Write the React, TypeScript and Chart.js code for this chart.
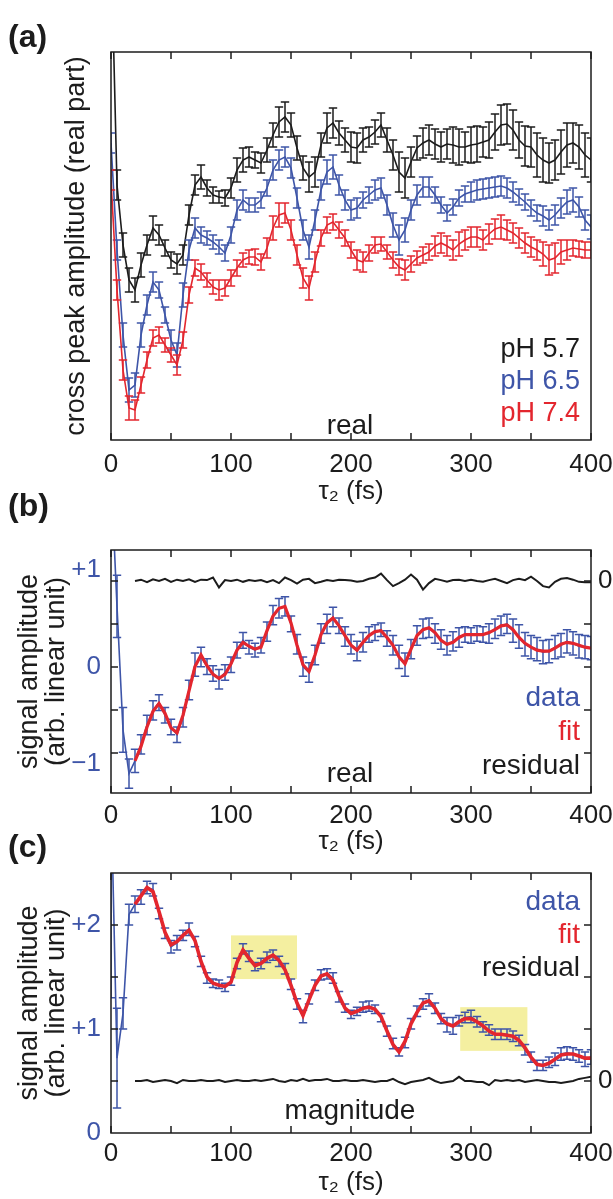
import React, { useEffect, useRef } from 'react';
import { Chart, registerables } from 'chart.js';

Chart.register(...registerables);

const FONT = '"Liberation Sans", Arial, Helvetica, sans-serif';
const INK = '#1c1c1c';
const BLUE = '#3e55a8';
const RED = '#e3262e';
const YELLOW = '#f4efa0';

// delay axis (fs)
const TAU = [0, 5, 10, 15, 20, 25, 30, 35, 40, 45, 50, 55, 60, 65, 70, 75, 80, 85, 90, 95,
  100, 105, 110, 115, 120, 125, 130, 135, 140, 145, 150, 155, 160, 165, 170, 175, 180, 185, 190, 195,
  200, 205, 210, 215, 220, 225, 230, 235, 240, 245, 250, 255, 260, 265, 270, 275, 280, 285, 290, 295,
  300, 305, 310, 315, 320, 325, 330, 335, 340, 345, 350, 355, 360, 365, 370, 375, 380, 385, 390, 395, 400];

const X_LABEL_TICKS = [0, 100, 200, 300, 400];
const X_TICK_MARKS = [0, 50, 100, 150, 200, 250, 300, 350, 400];
const X_TITLE = 'τ₂ (fs)';

// ---------- panel (a): cross peak amplitude, real part (arb. units) ----------
const A_PH57 = [5.0, 2.55, 1.95, 1.6, 1.5, 1.75, 1.95, 2.12, 2.05, 1.92,
  1.8, 1.76, 1.85, 2.25, 2.55, 2.63, 2.52, 2.45, 2.43, 2.42,
  2.52, 2.7, 2.8, 2.83, 2.8, 2.77, 2.9, 3.05, 3.18, 3.23,
  3.15, 2.92, 2.72, 2.63, 2.68, 2.95, 3.12, 3.17, 3.07, 3.0,
  2.93, 2.92, 3.0, 3.03, 3.08, 3.15, 3.0, 2.85, 2.68, 2.62,
  2.78, 2.92, 2.97, 3.0, 2.96, 2.93, 2.96, 2.95, 2.93, 2.93,
  2.95, 2.96, 2.98, 3.0, 3.08, 3.15, 3.16, 3.1, 3.0, 2.94,
  2.93, 2.85, 2.8, 2.77, 2.8, 2.88, 2.95, 2.97, 2.93, 2.85,
  2.8];
const A_PH57_ERR = [0.2, 0.15, 0.12, 0.12, 0.12, 0.12, 0.1, 0.12, 0.1, 0.08,
  0.08, 0.1, 0.1, 0.1, 0.1, 0.12, 0.08, 0.08, 0.06, 0.08,
  0.1, 0.12, 0.12, 0.1, 0.08, 0.1, 0.12, 0.12, 0.15, 0.15,
  0.12, 0.12, 0.12, 0.15, 0.15, 0.12, 0.15, 0.15, 0.12, 0.12,
  0.15, 0.15, 0.12, 0.1, 0.12, 0.12, 0.12, 0.15, 0.2, 0.2,
  0.15, 0.12, 0.15, 0.15, 0.15, 0.15, 0.15, 0.18, 0.18, 0.15,
  0.18, 0.18, 0.15, 0.18, 0.18, 0.2, 0.2, 0.2, 0.18, 0.2,
  0.2, 0.22, 0.22, 0.2, 0.2, 0.22, 0.22, 0.2, 0.22, 0.22,
  0.22];
const A_PH65 = [2.97, 1.9, 1.05, 0.5, 0.55, 1.05, 1.35, 1.58, 1.5, 1.25,
  1.0, 0.85, 1.45, 1.9, 2.12, 2.05, 2.02, 1.98, 1.93, 1.87,
  2.05, 2.3, 2.4, 2.35, 2.35, 2.4, 2.52, 2.7, 2.8, 2.83,
  2.72, 2.42, 2.1, 1.93, 2.2, 2.5, 2.68, 2.73, 2.55, 2.4,
  2.3, 2.32, 2.4, 2.45, 2.5, 2.52, 2.35, 2.15, 2.0, 2.1,
  2.3, 2.45, 2.53, 2.53, 2.45, 2.35, 2.27, 2.33, 2.42, 2.46,
  2.48, 2.5, 2.51, 2.52, 2.53, 2.54, 2.52, 2.48, 2.43, 2.38,
  2.32, 2.27, 2.24, 2.2, 2.25, 2.32, 2.38, 2.4, 2.33, 2.2,
  2.13];
const A_PH65_ERR = [0.1, 0.1, 0.12, 0.12, 0.12, 0.12, 0.1, 0.1, 0.08, 0.08,
  0.1, 0.12, 0.12, 0.1, 0.1, 0.08, 0.07, 0.07, 0.07, 0.08,
  0.08, 0.1, 0.1, 0.07, 0.07, 0.08, 0.08, 0.1, 0.1, 0.1,
  0.1, 0.1, 0.1, 0.12, 0.1, 0.1, 0.12, 0.12, 0.1, 0.1,
  0.1, 0.1, 0.08, 0.08, 0.1, 0.1, 0.1, 0.12, 0.15, 0.12,
  0.1, 0.1, 0.1, 0.1, 0.08, 0.08, 0.08, 0.08, 0.08, 0.08,
  0.1, 0.1, 0.1, 0.1, 0.1, 0.1, 0.1, 0.1, 0.08, 0.08,
  0.08, 0.08, 0.1, 0.1, 0.1, 0.1, 0.12, 0.12, 0.1, 0.1,
  0.12];
const A_PH74 = [2.6, 1.5, 0.7, 0.32, 0.3, 0.55, 0.8, 1.02, 1.05, 0.95,
  0.85, 0.75, 1.0, 1.45, 1.72, 1.68, 1.6, 1.53, 1.5, 1.52,
  1.62, 1.72, 1.8, 1.83, 1.83, 1.78, 1.92, 2.12, 2.25, 2.27,
  2.1, 1.85, 1.62, 1.52, 1.78, 2.02, 2.15, 2.18, 2.1, 2.02,
  1.9, 1.8, 1.78, 1.87, 1.95, 1.96, 1.88, 1.8, 1.73, 1.7,
  1.76, 1.82, 1.85, 1.88, 1.94, 1.97, 1.94, 1.9, 1.96, 2.0,
  2.03, 2.03, 2.0, 2.06, 2.11, 2.13, 2.1, 2.07, 2.02, 1.97,
  1.93, 1.9, 1.86, 1.8, 1.82, 1.88, 1.9, 1.92, 1.91, 1.9,
  1.9];
const A_PH74_ERR = [0.1, 0.1, 0.1, 0.12, 0.1, 0.08, 0.08, 0.08, 0.08, 0.07,
  0.07, 0.1, 0.08, 0.08, 0.08, 0.08, 0.07, 0.07, 0.1, 0.08,
  0.08, 0.08, 0.07, 0.07, 0.08, 0.08, 0.1, 0.12, 0.12, 0.1,
  0.1, 0.1, 0.1, 0.12, 0.1, 0.08, 0.08, 0.08, 0.08, 0.08,
  0.08, 0.1, 0.1, 0.08, 0.08, 0.07, 0.07, 0.08, 0.08, 0.1,
  0.08, 0.07, 0.08, 0.08, 0.1, 0.1, 0.1, 0.1, 0.12, 0.1,
  0.1, 0.1, 0.1, 0.1, 0.1, 0.12, 0.1, 0.1, 0.1, 0.1,
  0.1, 0.1, 0.12, 0.15, 0.15, 0.12, 0.1, 0.08, 0.08, 0.08,
  0.08];

// ---------- panel (b): real part, data / fit / residual ----------
const B_DATA = [2.0, 0.62, -0.65, -1.1, -0.97, -0.8, -0.6, -0.45, -0.37, -0.5,
  -0.62, -0.7, -0.52, -0.24, 0.02, 0.1, 0.0, -0.07, -0.13, -0.06,
  0.02, 0.17, 0.27, 0.2, 0.17, 0.22, 0.36, 0.53, 0.6, 0.62,
  0.44, 0.23, 0.0, -0.06, 0.12, 0.34, 0.44, 0.51, 0.42, 0.31,
  0.23, 0.16, 0.25, 0.33, 0.35, 0.38, 0.29, 0.22, 0.1, 0.02,
  0.18, 0.32, 0.39, 0.4, 0.34, 0.28, 0.22, 0.26, 0.3, 0.33,
  0.32, 0.34, 0.33, 0.34, 0.39, 0.42, 0.44, 0.37, 0.31, 0.23,
  0.2, 0.18, 0.15, 0.16, 0.2, 0.22, 0.26, 0.24, 0.21, 0.2,
  0.19];
const B_ERR = [0.3, 0.32, 0.23, 0.15, 0.12, 0.1, 0.1, 0.1, 0.08, 0.08,
  0.08, 0.08, 0.1, 0.1, 0.12, 0.1, 0.08, 0.08, 0.1, 0.08,
  0.08, 0.08, 0.08, 0.07, 0.07, 0.08, 0.1, 0.1, 0.1, 0.1,
  0.08, 0.1, 0.1, 0.1, 0.1, 0.1, 0.1, 0.1, 0.08, 0.1,
  0.1, 0.1, 0.1, 0.08, 0.08, 0.07, 0.08, 0.1, 0.12, 0.12,
  0.1, 0.1, 0.1, 0.1, 0.1, 0.1, 0.1, 0.1, 0.1, 0.08,
  0.08, 0.08, 0.08, 0.1, 0.1, 0.1, 0.1, 0.12, 0.12, 0.12,
  0.12, 0.12, 0.12, 0.12, 0.12, 0.12, 0.12, 0.12, 0.12, 0.12,
  0.12];
const B_FIT = [null, null, null, null, -0.97, -0.82, -0.62, -0.46, -0.38, -0.48,
  -0.63, -0.68, -0.5, -0.25, 0.0, 0.12, 0.01, -0.08, -0.12, -0.08,
  0.03, 0.17, 0.25, 0.21, 0.18, 0.2, 0.37, 0.52, 0.6, 0.62,
  0.45, 0.22, 0.02, -0.05, 0.12, 0.33, 0.45, 0.5, 0.42, 0.32,
  0.22, 0.17, 0.25, 0.32, 0.36, 0.37, 0.3, 0.22, 0.1, 0.03,
  0.18, 0.32, 0.38, 0.4, 0.35, 0.27, 0.23, 0.25, 0.3, 0.33,
  0.33, 0.33, 0.33, 0.35, 0.38, 0.42, 0.43, 0.38, 0.3, 0.24,
  0.2, 0.17, 0.16, 0.16, 0.19, 0.23, 0.25, 0.24, 0.22, 0.2,
  0.19];
const B_RESID = [null, null, null, null, 0.0, 0.03, -0.03, 0.04, 0.0, 0.05,
  -0.02, 0.03, 0.0, 0.04, -0.02, 0.03, 0.02, 0.08, -0.15, 0.02,
  0.0, 0.03, -0.02, 0.02, 0.0, 0.02, -0.03, 0.02, -0.05, 0.08,
  0.02, -0.06, 0.03, 0.05, -0.05, -0.02, 0.02, 0.0, 0.03, 0.02,
  0.01, -0.02, 0.0, 0.05, 0.08, 0.17, 0.02, -0.12, -0.05, 0.03,
  0.15, 0.03, -0.2, -0.05, 0.05, 0.02, -0.02, 0.02, 0.03, 0.0,
  0.03, 0.0, -0.02, 0.02, 0.05, 0.0, -0.05, 0.02, 0.05, 0.02,
  0.1, 0.0, -0.12, -0.15, -0.02, 0.05, 0.07, 0.03, -0.02, -0.03,
  -0.03];
const B_LEFT_LABELS = [-1, 0, 1];
const B_RESID_MARKS = [0, -1, -2, -3, -4];

// ---------- panel (c): magnitude, data / fit / residual ----------
const C_DATA = [3.3, 0.72, 1.15, 2.1, 2.2, 2.27, 2.36, 2.34, 2.11, 1.92,
  1.79, 1.83, 1.9, 1.96, 1.84, 1.65, 1.49, 1.44, 1.43, 1.4,
  1.46, 1.63, 1.77, 1.7, 1.6, 1.63, 1.69, 1.71, 1.65, 1.58,
  1.43, 1.24, 1.12, 1.29, 1.42, 1.52, 1.53, 1.49, 1.31, 1.2,
  1.14, 1.17, 1.21, 1.22, 1.19, 1.11, 0.98, 0.86, 0.78, 0.87,
  1.05, 1.17, 1.24, 1.28, 1.2, 1.1, 1.04, 1.03, 1.08, 1.11,
  1.12, 1.07, 1.02, 0.99, 0.95, 0.95, 0.95, 0.93, 0.89, 0.8,
  0.73, 0.65, 0.65, 0.68, 0.71, 0.76, 0.77, 0.76, 0.74, 0.71,
  0.73];
const C_ERR = [2.0, 0.48, 0.15, 0.1, 0.08, 0.07, 0.06, 0.06, 0.05, 0.05,
  0.06, 0.07, 0.05, 0.06, 0.05, 0.05, 0.05, 0.04, 0.04, 0.04,
  0.04, 0.05, 0.05, 0.05, 0.04, 0.05, 0.05, 0.05, 0.05, 0.05,
  0.05, 0.05, 0.06, 0.05, 0.05, 0.05, 0.05, 0.05, 0.05, 0.04,
  0.04, 0.04, 0.05, 0.05, 0.04, 0.04, 0.05, 0.05, 0.04, 0.05,
  0.05, 0.05, 0.05, 0.06, 0.05, 0.05, 0.07, 0.08, 0.05, 0.05,
  0.06, 0.05, 0.05, 0.05, 0.05, 0.05, 0.05, 0.05, 0.05, 0.05,
  0.05, 0.05, 0.05, 0.05, 0.06, 0.06, 0.06, 0.06, 0.06, 0.07,
  0.07];
const C_FIT = [null, null, null, null, 2.2, 2.28, 2.36, 2.32, 2.13, 1.93,
  1.81, 1.84, 1.9, 1.95, 1.85, 1.65, 1.5, 1.44, 1.42, 1.41,
  1.45, 1.64, 1.76, 1.68, 1.61, 1.63, 1.68, 1.71, 1.66, 1.57,
  1.42, 1.25, 1.13, 1.28, 1.42, 1.51, 1.53, 1.47, 1.32, 1.2,
  1.15, 1.17, 1.2, 1.21, 1.19, 1.12, 0.98, 0.85, 0.78, 0.88,
  1.05, 1.16, 1.25, 1.27, 1.2, 1.1, 1.05, 1.03, 1.07, 1.1,
  1.1, 1.07, 1.03, 0.98, 0.95, 0.95, 0.94, 0.93, 0.89, 0.82,
  0.73, 0.66, 0.65, 0.67, 0.71, 0.75, 0.76, 0.76, 0.74, 0.72,
  0.72];
const C_RESID = [null, null, null, null, 0.0, 0.0, 0.01, -0.01, 0.0, 0.01,
  0.0, -0.02, 0.01, 0.0, 0.0, 0.01, 0.0, 0.0, 0.01, -0.01,
  0.0, 0.01, 0.0, 0.0, 0.01, 0.0, 0.01, 0.02, 0.0, -0.01,
  0.01, 0.0, 0.02, 0.0, 0.01, 0.01, 0.02, 0.0, 0.0, 0.01,
  0.0, 0.0, 0.01, 0.0, -0.01, 0.0, 0.0, 0.02, -0.01, -0.03,
  -0.01, 0.0, 0.01, 0.03, 0.0, -0.02, -0.01, 0.0, 0.04, 0.0,
  0.0, -0.01, -0.01, -0.04, 0.01, 0.0, 0.01, 0.0, 0.01, -0.01,
  0.0, 0.01, 0.0, -0.01, -0.01, -0.02, -0.01, 0.0, 0.02, 0.03,
  0.04];
const C_LEFT_LABELS = [0, 1, 2];
const C_LEFT_MARKS = [0.5, 1, 1.5, 2];
// highlighted windows in (c)
const BOX_X0 = [100, 291];
const BOX_X1 = [155, 347];
const BOX_Y0 = [1.48, 0.79];
const BOX_Y1 = [1.9, 1.21];

// ---------- helpers ----------
const pts = (ys: any[]) => TAU.map((t, i) => ({ x: t, y: ys[i] }));

function line(ys: any[], color: string, width: number, extra: any = {}) {
  return {
    data: pts(ys),
    borderColor: color,
    backgroundColor: color,
    borderWidth: width,
    pointRadius: 0,
    pointHoverRadius: 0,
    tension: 0,
    fill: false,
    ...extra,
  };
}

const errorBarPlugin = {
  id: 'errorBars',
  afterDatasetDraw(chart: any, args: any) {
    const ds = chart.data.datasets[args.index];
    const errs = ds.errors;
    if (!errs) return;
    const { ctx, chartArea: a } = chart;
    const xs = chart.scales[args.meta.xAxisID];
    const ys = chart.scales[args.meta.yAxisID];
    const cw = 4.2;
    ctx.save();
    ctx.beginPath();
    ctx.rect(a.left, a.top, a.right - a.left, a.bottom - a.top);
    ctx.clip();
    ctx.strokeStyle = ds.borderColor;
    ctx.lineWidth = 1.5;
    ctx.beginPath();
    ds.data.forEach((p: any, i: number) => {
      const e = errs[i];
      if (p.y == null || e == null) return;
      const x = xs.getPixelForValue(p.x);
      const lo = ys.getPixelForValue(p.y - e);
      const hi = ys.getPixelForValue(p.y + e);
      ctx.moveTo(x, lo); ctx.lineTo(x, hi);
      ctx.moveTo(x - cw, lo); ctx.lineTo(x + cw, lo);
      ctx.moveTo(x - cw, hi); ctx.lineTo(x + cw, hi);
    });
    ctx.stroke();
    ctx.restore();
  },
};

function makeFrame(yMarks: { scale: string; values: number[] }[]) {
  return {
    id: 'frameTicks',
    afterDatasetsDraw(chart: any) {
      const { ctx, chartArea: a, scales } = chart;
      const L = 7;
      ctx.save();
      ctx.strokeStyle = INK;
      ctx.lineWidth = 1.5;
      ctx.strokeRect(a.left, a.top, a.right - a.left, a.bottom - a.top);
      ctx.beginPath();
      for (const v of X_TICK_MARKS) {
        const x = scales.x.getPixelForValue(v);
        ctx.moveTo(x, a.bottom); ctx.lineTo(x, a.bottom - L);
        ctx.moveTo(x, a.top); ctx.lineTo(x, a.top + L);
      }
      for (const m of yMarks) {
        const sc = scales[m.scale];
        for (const v of m.values) {
          const y = sc.getPixelForValue(v);
          ctx.moveTo(a.left, y); ctx.lineTo(a.left + L, y);
          ctx.moveTo(a.right, y); ctx.lineTo(a.right - L, y);
        }
      }
      ctx.stroke();
      ctx.restore();
    },
  };
}

const boxPlugin = {
  id: 'hiBoxes',
  beforeDatasetsDraw(chart: any) {
    const { ctx, scales } = chart;
    ctx.save();
    ctx.fillStyle = YELLOW;
    BOX_X0.forEach((x0, i) => {
      const l = scales.x.getPixelForValue(x0);
      const r = scales.x.getPixelForValue(BOX_X1[i]);
      const t = scales.y.getPixelForValue(BOX_Y1[i]);
      const b = scales.y.getPixelForValue(BOX_Y0[i]);
      ctx.fillRect(l, t, r - l, b - t);
    });
    ctx.restore();
  },
};

function xScale(labelPad: number, titlePad: number, height: number) {
  return {
    type: 'linear',
    min: 0,
    max: 400,
    afterBuildTicks: (s: any) => { s.ticks = X_LABEL_TICKS.map((v) => ({ value: v })); },
    afterFit: (s: any) => { s.height = height; },
    grid: { display: false, drawTicks: false },
    border: { display: false },
    ticks: { color: INK, font: { family: FONT, size: 26 }, padding: labelPad, maxRotation: 0, autoSkip: false },
    title: {
      display: true, text: X_TITLE, color: INK,
      font: { family: FONT, size: 26, lineHeight: 1 },
      padding: { top: 0, bottom: titlePad },
    },
  };
}

const LEFT_W = 111;
const RIGHT_W = 49; // canvas is 640 wide, plot right edge at 591

function rightAxis(min: number, max: number, labels: number[]) {
  return {
    type: 'linear',
    position: 'right',
    min, max,
    afterFit: (s: any) => { s.width = RIGHT_W; },
    afterBuildTicks: (s: any) => { s.ticks = labels.map((v) => ({ value: v })); },
    grid: { display: false, drawTicks: false },
    border: { display: false },
    ticks: { display: labels.length > 0, color: INK, font: { family: FONT, size: 26 }, padding: 7 },
  };
}

function baseOptions(padTop: number, scales: any) {
  return {
    animation: false,
    responsive: true,
    maintainAspectRatio: false,
    events: [],
    layout: { padding: { top: padTop, left: 0, right: 0, bottom: 0 } },
    plugins: { legend: { display: false }, tooltip: { enabled: false } },
    scales,
  };
}

function configA(): any {
  return {
    type: 'line',
    data: {
      datasets: [
        line(A_PH74, RED, 1.6, { errors: A_PH74_ERR, order: 0 }),
        line(A_PH65, BLUE, 1.6, { errors: A_PH65_ERR, order: 1 }),
        line(A_PH57, INK, 1.6, { errors: A_PH57_ERR, order: 2 }),
      ],
    },
    options: baseOptions(52, {
      x: xScale(9, 5, 70),
      y: {
        type: 'linear', min: 0, max: 3.88,
        afterFit: (s: any) => { s.width = LEFT_W; },
        grid: { display: false, drawTicks: false },
        border: { display: false },
        ticks: { display: false },
        title: {
          display: true, text: 'cross peak amplitude (real part)', color: INK,
          font: { family: FONT, size: 27, lineHeight: 1 }, padding: { top: 63, bottom: 0 },
        },
      },
      y2: rightAxis(0, 1, []),
    }),
    plugins: [errorBarPlugin, makeFrame([])],
  };
}

function leftSignalAxis(min: number, max: number, labels: number[]) {
  return {
    type: 'linear', min, max,
    afterFit: (s: any) => { s.width = LEFT_W; },
    afterBuildTicks: (s: any) => { s.ticks = labels.map((v) => ({ value: v })); },
    grid: { display: false, drawTicks: false },
    border: { display: false },
    ticks: {
      color: BLUE, font: { family: FONT, size: 26 }, padding: 10,
      callback: (v: any) => (v > 0 ? '+' + v : v < 0 ? '\u2212' + Math.abs(v) : '0'),
    },
    title: {
      display: true, text: ['signal amplitude', '(arb. linear unit)'], color: INK,
      font: { family: FONT, size: 27, lineHeight: 1 }, padding: { top: 16, bottom: 0 },
    },
  };
}

function configB(): any {
  return {
    type: 'line',
    data: {
      datasets: [
        line(B_FIT, RED, 3.2, { order: 0 }),
        line(B_DATA, BLUE, 1.6, { errors: B_ERR, order: 1 }),
        line(B_RESID, INK, 2, { yAxisID: 'y2', order: 2 }),
      ],
    },
    options: baseOptions(50, {
      x: xScale(7, 5, 67),
      y: leftSignalAxis(-1.3, 1.2, B_LEFT_LABELS),
      y2: rightAxis(-4.93, 0.72, [0]),
    }),
    plugins: [errorBarPlugin, makeFrame([{ scale: 'y2', values: B_RESID_MARKS }])],
  };
}

function configC(): any {
  return {
    type: 'line',
    data: {
      datasets: [
        line(C_FIT, RED, 3.6, { order: 0 }),
        line(C_DATA, BLUE, 1.6, { errors: C_ERR, order: 1 }),
        line(C_RESID, INK, 2, { yAxisID: 'y2', order: 2 }),
      ],
    },
    options: baseOptions(33, {
      x: xScale(5, 3, 66),
      y: leftSignalAxis(0, 2.5, C_LEFT_LABELS),
      y2: rightAxis(-0.5, 2.0, [0]),
    }),
    plugins: [boxPlugin, errorBarPlugin, makeFrame([{ scale: 'y', values: C_LEFT_MARKS }])],
  };
}

function Txt({ x, y, children, align = 'left', color = INK, size = 28, bold = false }: any) {
  const style: any = {
    position: 'absolute', top: y - size / 2, fontFamily: FONT, fontSize: size,
    lineHeight: `${size}px`, color, fontWeight: bold ? 700 : 400, whiteSpace: 'nowrap',
  };
  if (align === 'right') style.right = 613 - x;
  else if (align === 'center') { style.left = x; style.transform = 'translateX(-50%)'; }
  else style.left = x;
  return <div style={style}>{children}</div>;
}

export default function App() {
  const refA = useRef<HTMLCanvasElement>(null);
  const refB = useRef<HTMLCanvasElement>(null);
  const refC = useRef<HTMLCanvasElement>(null);

  useEffect(() => {
    const charts = [
      new Chart(refA.current as HTMLCanvasElement, configA()),
      new Chart(refB.current as HTMLCanvasElement, configB()),
      new Chart(refC.current as HTMLCanvasElement, configC()),
    ];
    return () => charts.forEach((c) => c.destroy());
  }, []);

  const box = (top: number, height: number): any => ({ position: 'absolute', left: 0, top, width: 640, height });

  return (
    <div style={{ position: 'absolute', left: 0, top: 0, width: 613, height: 1199, overflow: 'hidden', background: '#fff' }}>
      <div style={box(0, 510)}><canvas ref={refA} /></div>
      <div style={box(500, 360)}><canvas ref={refB} /></div>
      <div style={box(840, 359)}><canvas ref={refC} /></div>

      <Txt x={8} y={36} size={32} bold>(a)</Txt>
      <Txt x={580} y={348} align="right" size={27}>pH 5.7</Txt>
      <Txt x={580} y={380} align="right" size={27} color={BLUE}>pH 6.5</Txt>
      <Txt x={580} y={412} align="right" size={27} color={RED}>pH 7.4</Txt>
      <Txt x={350} y={425} align="center">real</Txt>

      <Txt x={8} y={505} size={32} bold>(b)</Txt>
      <Txt x={580} y={697} align="right" color={BLUE}>data</Txt>
      <Txt x={580} y={731} align="right" color={RED}>fit</Txt>
      <Txt x={580} y={765} align="right">residual</Txt>
      <Txt x={350} y={773} align="center">real</Txt>

      <Txt x={8} y={846} size={32} bold>(c)</Txt>
      <Txt x={580} y={901} align="right" color={BLUE}>data</Txt>
      <Txt x={580} y={934} align="right" color={RED}>fit</Txt>
      <Txt x={580} y={967} align="right">residual</Txt>
      <Txt x={350} y={1110} align="center">magnitude</Txt>
    </div>
  );
}
